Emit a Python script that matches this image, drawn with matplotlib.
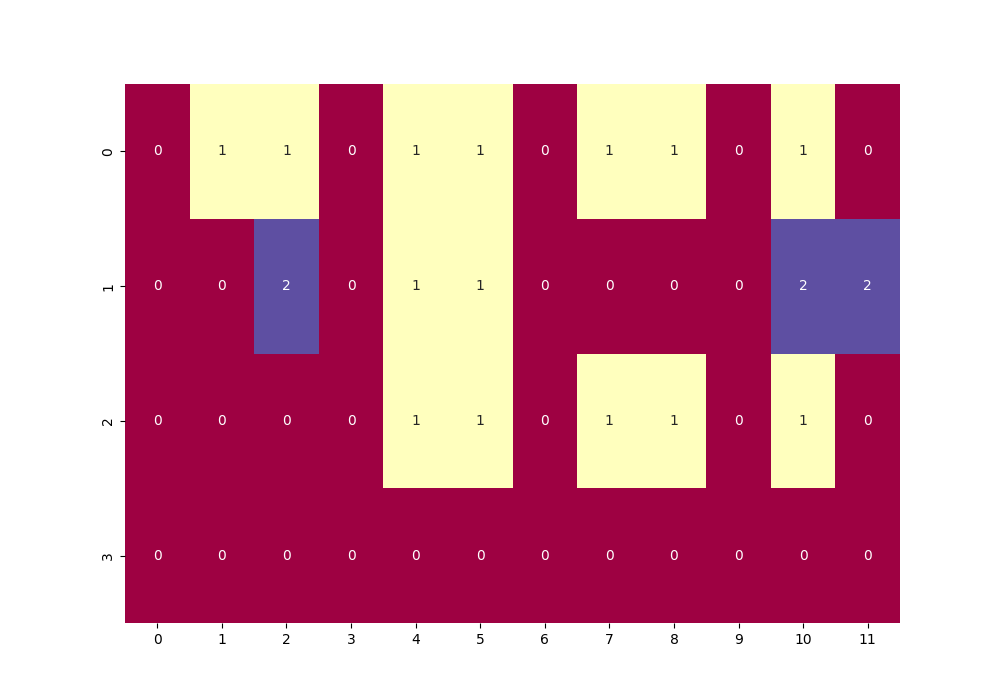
import matplotlib
matplotlib.use('Agg')
import matplotlib.pyplot as plt
import seaborn as sns
import numpy as np


linha0 = [0, 1, 1, 0, 1, 1, 0, 1, 1, 0, 1, 0]
linha1 = [0, 0, 2, 0, 1, 1, 0, 0, 0, 0, 2, 2]
linha2 = [0, 0, 0, 0, 1, 1, 0, 1, 1, 0, 1, 0]
linha3 = [0, 0, 0, 0, 0, 0, 0, 0, 0, 0, 0, 0]

grade = np.array([linha0, linha1, linha2, linha3])

fig = plt.figure(figsize=(10, 7), dpi=100)
ax = sns.heatmap(grade, cmap='Spectral', annot=True, cbar=False)

plt.savefig('out.png')
